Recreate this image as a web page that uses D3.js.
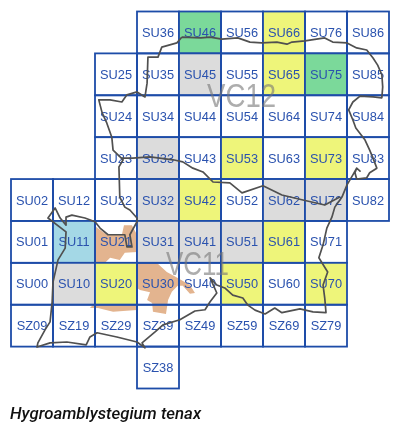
<!DOCTYPE html>
<html><head><meta charset="utf-8">
<script src="https://cdn.jsdelivr.net/npm/d3@7"></script>
<style>html,body{margin:0;padding:0;background:#fff}svg{display:block;filter:blur(0.3px)}</style>
</head><body><svg id="c" width="400" height="430"></svg>
<script>
const allCells = ["SU36","SU46","SU56","SU66","SU76","SU86",
"SU25","SU35","SU45","SU55","SU65","SU75","SU85",
"SU24","SU34","SU44","SU54","SU64","SU74","SU84",
"SU23","SU33","SU43","SU53","SU63","SU73","SU83",
"SU02","SU12","SU22","SU32","SU42","SU52","SU62","SU72","SU82",
"SU01","SU11","SU21","SU31","SU41","SU51","SU61","SU71",
"SU00","SU10","SU20","SU30","SU40","SU50","SU60","SU70",
"SZ09","SZ19","SZ29","SZ39","SZ49","SZ59","SZ69","SZ79","SZ38"];
const greenCells = ["SU46","SU75"];
const yellowCells = ["SU66","SU65","SU53","SU73","SU42","SU61","SU50","SU70","SU20"];
const blueCells = ["SU11"];
const greyCells = ["SU45","SU33","SU32","SU62","SU72","SU31","SU41","SU51","SU10"];
const title = "Hygroamblystegium tenax";
const vcLabels = [["VC12",54.9,47.2],["VC11",44.4,7.1]];
// boundary in km east / km north of the SU grid origin
const coast = [[40.7,63.9],[45.2,63.7],[47.4,63.9],[50.2,63.4],[54,63.7],[56.9,62.7],[59.7,62.5],[63.3,62.7],[65.7,62.2],[66.9,62.7],[70,63],[74.7,63.7],[76.6,62.7],[80,62.5],[82.3,61.3],[84.7,60.8],[86.2,58.9],[87.3,57.2],[88.3,54.9],[88.5,52],[88.3,49.4],[86.2,49.6],[83.1,49.8],[81.4,48.4],[80.4,46.5],[81.4,44.1],[82.1,42.2],[84.3,39.3],[85.4,36.9],[86.2,35],[87.1,32.6],[85.4,31.5],[84.7,30.3],[82.3,30],[81.9,31.5],[82.3,32.6],[83.1,31.9],[82.3,32.6],[81.4,31],[80,28.6],[78.8,25.7],[77.1,23.3],[76.4,20.9],[75.2,18.3],[74.3,14.3],[73.3,11.2],[75.4,7.8],[74.3,4.7],[74.7,1.6],[75,-1.9],[71.9,-1.7],[68.8,-1],[64.5,-1.9],[62.8,-0.8],[60.5,-2.2],[58.1,-1.3],[56.4,-0.1],[55.2,1.6],[52.8,2.3],[50.9,4],[49,4.7],[47.4,6.4],[49,2.8],[47.4,0.7],[46.2,-1.2],[43.8,-1.5],[40.2,-3.6],[36.2,-4.8],[34.3,-6.5],[31.2,-9.1],[31.9,-10.3],[30,-8.9],[25.2,-7.7],[20.5,-6.7],[18.8,-7.7],[17.9,-9.6],[13.3,-8.9],[9.3,-9.1],[6.2,-10.1],[6.4,-9.1],[8.1,-6],[9.3,-4.1],[9.8,0.7],[10,5.4],[11.2,10.7],[12.9,13.5],[13.1,17.4],[8.8,20.7],[10.5,23.1],[11.7,20.7],[13.1,19],[13.1,20.9],[14.5,21.4],[17.6,20.7],[20,19.8],[21.2,18.3],[23.1,16.7],[27.1,16.7],[27.6,13.8],[28.8,13.8],[28.3,16.7],[30,19.8],[30,20.7],[28.3,22.6],[27.1,23.3],[25.9,25.7],[25.7,32.9],[26.7,34.6],[24.3,36.9],[24,40],[22.8,43.4],[21.7,45.8],[20.9,48.9],[23.6,48.9],[26.4,48.4],[27.6,50.1],[30,50.8],[31.9,49.6],[32.4,52.9],[32.6,59.1],[35,59.1],[35.9,61.5],[39.5,62.5],[40.7,63.9]];
const divide = [[26.2,35],[29,35],[33.1,35.3],[38.6,34.6],[40.9,34.1],[43.3,32.6],[45.7,31.7],[48.1,29.3],[52.1,29.1],[55,26.7],[60,28.4],[64.5,26.2],[69.5,25],[74.7,23.8],[78.3,25.7]];
const urbanA = [[20.2,18.6],[22.8,16.7],[26.4,16.7],[26.9,19],[28.8,19],[30,16.7],[30,12.6],[27.1,12.4],[25.9,10.7],[23.6,11.2],[22.4,10],[20.2,10]];
const urbanB = [[30,10],[34.7,10],[37.1,7.8],[39.7,6.4],[42.6,4.7],[43.8,2.8],[42.6,2.6],[40.9,4.5],[39.7,4.5],[38.3,3.1],[37.4,1.1],[36.9,-2.2],[33.8,-1.7],[33.6,0.4],[32.4,1.1],[33.1,3],[30.7,3.5],[30,4]];
const urbanC = [[18.8,-0.8],[19.5,-0.05],[30,-0.05],[30,-1.25],[26.7,-1.5],[24.3,-1.7],[20.7,-0.8]];

const x = d3.scaleLinear().domain([0,90]).range([11,389]);
const y = d3.scaleLinear().domain([70,-20]).range([11.5,388.5]);
const svg = d3.select("#c");
const cellE = n => +n[2]*10;
const cellN = n => (n[1]==="Z" ? +n[3]*10-100 : +n[3]*10);
const fillOf = n => greenCells.includes(n) ? "#7bd99a" : yellowCells.includes(n) ? "#eef57a"
  : blueCells.includes(n) ? "#a4d8e6" : greyCells.includes(n) ? "#dcdcdc" : "none";
const line = d3.line().x(d=>x(d[0])).y(d=>y(d[1]));

svg.selectAll("path.u").data([urbanA,urbanB,urbanC]).join("path").attr("class","u")
  .attr("d",d=>line(d)+"Z").attr("fill","#e3b48f");
svg.selectAll("rect.f").data(allCells).join("rect").attr("class","f")
  .attr("x",d=>x(cellE(d))).attr("y",d=>y(cellN(d)+10))
  .attr("width",d=>x(cellE(d)+10)-x(cellE(d))).attr("height",d=>y(cellN(d))-y(cellN(d)+10))
  .attr("fill",fillOf).attr("stroke","#1d4ca8").attr("stroke-width",1.8);
svg.selectAll("text.vc").data(vcLabels).join("text").attr("class","vc")
  .attr("x",d=>x(d[1])).attr("y",d=>y(d[2])).attr("text-anchor","middle")
  .attr("font-family","Liberation Sans").attr("font-size",33)
  .attr("textLength",d=>d[0]==="VC12"?69:63).attr("lengthAdjust","spacingAndGlyphs")
  .attr("fill","#777").attr("fill-opacity",.6).text(d=>d[0]);
svg.selectAll("text.l").data(allCells).join("text").attr("class","l")
  .attr("x",d=>x(cellE(d)+5)).attr("y",d=>y(cellN(d)+5)).attr("dy","0.36em")
  .attr("text-anchor","middle").attr("font-family","Liberation Sans").attr("font-size",12.8)
  .attr("fill","#2a52ae").text(d=>d);
svg.selectAll("path.b").data([coast,divide]).join("path").attr("class","b")
  .attr("d",line).attr("fill","none").attr("stroke","#505050").attr("stroke-width",1.7)
  .attr("stroke-linejoin","round");
svg.append("text").attr("x",10).attr("y",419).attr("font-family","Roboto")
  .attr("font-style","italic").attr("font-weight",500).attr("font-size",16.8)
  .attr("fill","#111").text(title);
</script></body></html>
